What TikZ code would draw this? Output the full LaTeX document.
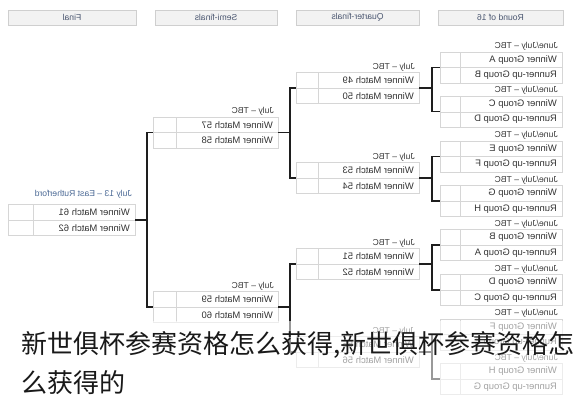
\documentclass[tikz,border=0pt]{standalone}
\usepackage{graphicx}
\usepackage{fontspec}
\setmainfont{Liberation Sans}
\newfontfamily\cjk{Noto Sans CJK SC}
\usetikzlibrary{calc}
\definecolor{cellgray}{HTML}{D6D6D6}
\definecolor{rowcol}{HTML}{333333}
\definecolor{labcol}{HTML}{3A3A3A}
\definecolor{headfill}{HTML}{F2F2F2}
\definecolor{headborder}{HTML}{CFCFCF}
\definecolor{headtext}{HTML}{4A5670}
\definecolor{finallab}{HTML}{4C6A96}
\definecolor{bracketcol}{HTML}{1E1E1E}
\tikzset{
  cellbox/.style={draw=cellgray, fill=white, line width=0.6pt, minimum height=15.5pt, inner sep=0pt, outer sep=0pt},
  cellline/.style={draw=cellgray, line width=0.6pt},
  rowtext/.style={font=\fontsize{9.4}{10}\selectfont, text=rowcol, inner sep=0pt},
  labeltext/.style={font=\fontsize{8.6}{9}\selectfont, text=labcol, inner sep=0pt},
  headbox/.style={draw=headborder, fill=headfill, line width=0.6pt, minimum height=15pt, inner sep=0pt, outer sep=0pt, font=\fontsize{8.6}{9}\selectfont, text=headtext},
  bracket/.style={draw=bracketcol, line width=1.3pt},
  cntext/.style={font=\cjk\fontsize{26}{30}\selectfont, text=black!90, inner sep=0pt},
}
% #1 name, #2 left x, #3 mid y, #4 width, #5 small cell width, #6 label, #7 top team, #8 bottom team
\newcommand{\mymatch}[8]{%
  \node[cellbox, minimum width=#4pt, anchor=south west] (#1t) at (#2,#3) {};
  \node[cellbox, minimum width=#4pt, anchor=north west] (#1b) at (#2,#3) {};
  \draw[cellline] ($(#1t.north west)+(#5,0)$) -- ($(#1b.south west)+(#5,0)$);
  \node[rowtext, anchor=east] (#1tx) at ($(#1t.east)+(-5,0)$) {\reflectbox{#7}};
  \node[rowtext, anchor=east] (#1bx) at ($(#1b.east)+(-5,0)$) {\reflectbox{#8}};
  \node[labeltext, anchor=base east] (#1lab) at ($(#1t.north east)+(-4,-3.5)$) {\reflectbox{#6}};
  \coordinate (#1w) at (#1t.south west);
  \coordinate (#1e) at (#1t.south east);
}
\begin{document}
\begin{tikzpicture}[x=1pt, y=-1pt]
\useasboundingbox (0,0) rectangle (573,400);
\fill[white] (0,0) rectangle (573,400);

% headers
\node[headbox, minimum width=128pt, anchor=north west] (hfinal) at (8,10) {\reflectbox{Final}};
\node[headbox, minimum width=122pt, anchor=north west] (hsemi) at (155,10) {\reflectbox{Semi-finals}};
\node[headbox, minimum width=123pt, anchor=north west] (hquarter) at (296,10) {\reflectbox{Quarter-finals}};
\node[headbox, minimum width=125pt, anchor=north west] (hround) at (438,10) {\reflectbox{Round of 16}};

% round of 16
\mymatch{ra}{440}{67.5}{122}{20}{June/July – TBC}{Winner Group A}{Runner-up Group B}
\mymatch{rb}{440}{111.8}{122}{20}{June/July – TBC}{Winner Group C}{Runner-up Group D}
\mymatch{rc}{440}{156.5}{122}{20}{June/July – TBC}{Winner Group E}{Runner-up Group F}
\mymatch{rd}{440}{201}{122}{20}{June/July – TBC}{Winner Group G}{Runner-up Group H}
\mymatch{re}{440}{245}{122}{20}{June/July – TBC}{Winner Group B}{Runner-up Group A}
\mymatch{rf}{440}{290}{122}{20}{June/July – TBC}{Winner Group D}{Runner-up Group C}
\mymatch{rg}{440}{334.5}{122}{20}{June/July – TBC}{Winner Group F}{Runner-up Group E}
\mymatch{rh}{440}{379}{122}{20}{June/July – TBC}{Winner Group H}{Runner-up Group G}

% quarter-finals
\mymatch{qa}{296}{88}{123}{22}{July – TBC}{Winner Match 49}{Winner Match 50}
\mymatch{qb}{296}{178}{123}{22}{July – TBC}{Winner Match 53}{Winner Match 54}
\mymatch{qc}{296}{264}{123}{22}{July – TBC}{Winner Match 51}{Winner Match 52}
\mymatch{qd}{296}{352}{123}{22}{July – TBC}{Winner Match 55}{Winner Match 56}

% semi-finals
\mymatch{sa}{153}{132.5}{125}{23}{July – TBC}{Winner Match 57}{Winner Match 58}
\mymatch{sb}{153}{307}{125}{23}{July – TBC}{Winner Match 59}{Winner Match 60}

% final
\mymatch{fa}{8}{220}{127}{25}{}{Winner Match 61}{Winner Match 62}
\node[labeltext, text=finallab, anchor=base east] (falab2) at ($(fat.north east)+(-3,-8.5)$) {\reflectbox{July 13 – East Rutherford}};

% brackets round of 16 -> quarter
\draw[bracket] (raw) -- ++(-8,0) coordinate (ja) |- (rbw);
\draw[bracket] (qae) -- (qae -| ja);
\draw[bracket] (rcw) -- ++(-8,0) coordinate (jb) |- (rdw);
\draw[bracket] (qbe) -- (qbe -| jb);
\draw[bracket] (rew) -- ++(-8,0) coordinate (jc) |- (rfw);
\draw[bracket] (qce) -- (qce -| jc);
\draw[bracket] (rgw) -- ++(-8,0) coordinate (jd) |- (rhw);
\draw[bracket] (qde) -- (qde -| jd);
% quarter -> semi
\draw[bracket] (qaw) -- ++(-6,0) coordinate (je) |- (qbw);
\draw[bracket] (sae) -- (sae -| je);
\draw[bracket] (qcw) -- ++(-6,0) coordinate (jf) |- (qdw);
\draw[bracket] (sbe) -- (sbe -| jf);
% semi -> final
\draw[bracket] (saw) -- ++(-6,0) coordinate (jg) |- (sbw);
\draw[bracket] (fae) -- (fae -| jg);

% faded band and caption
\fill[white, opacity=0.55] (0,321) rectangle (573,400);
\node[cntext, anchor=west] (cn1) at (21,345) {新世俱杯参赛资格怎么获得,新世俱杯参赛资格怎};
\node[cntext, anchor=west] (cn2) at (21,383) {么获得的};
\end{tikzpicture}
\end{document}
